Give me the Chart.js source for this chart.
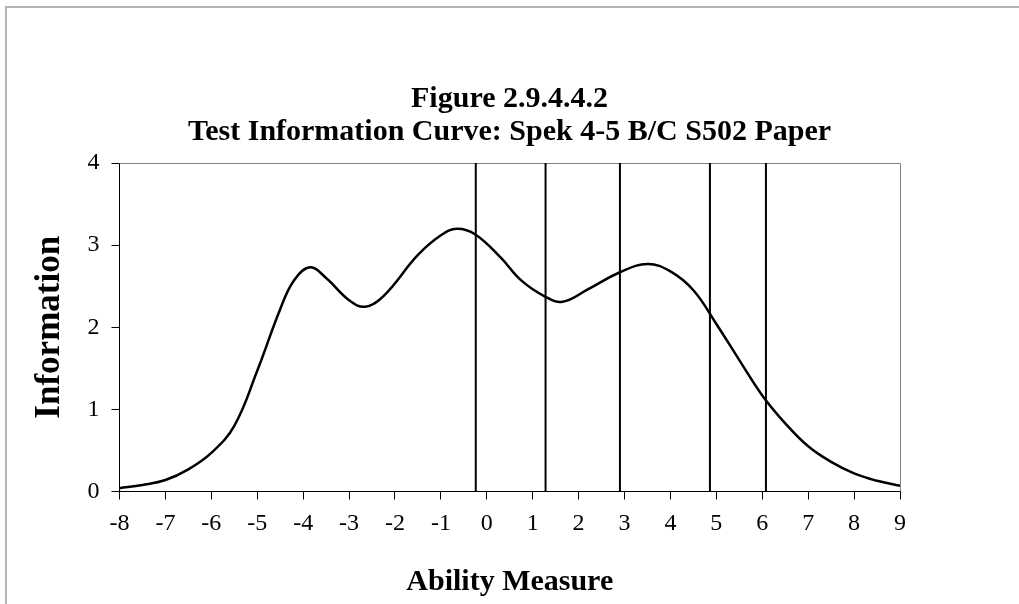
<!DOCTYPE html>
<html>
<head>
<meta charset="utf-8">
<title>Test Information Curve</title>
<script src="https://cdn.jsdelivr.net/npm/chart.js@4.4.1/dist/chart.umd.min.js"></script>
<style>
    html, body { margin: 0; padding: 0; background: #fff; }
    #wrap { position: relative; width: 1019px; height: 604px; overflow: hidden; }
    #frame {
        position: absolute; left: 5px; top: 6px; width: 1100px; height: 700px;
        border-top: 2px solid #b4b4b4; border-left: 2px solid #b4b4b4;
        pointer-events: none;
    }
    canvas { position: absolute; left: 0; top: 0; }
</style>
</head>
<body>
<div id="wrap">
    <canvas id="infoChart" width="1019" height="604"></canvas>
    <div id="frame"></div>
</div>
<script>
// ability measure (x) and test information (y)
const abilityX = [-8, -7.5, -7, -6.5, -6, -5.5, -5, -4.5, -4.2, -3.85, -3.5, -3, -2.65, -2.25,
    -1.5, -1, -0.65, -0.25, 0.3, 0.75, 1.25, 1.65, 2.2, 2.9, 3.5, 4, 4.5, 5, 5.5, 6, 6.5,
    7, 7.5, 8, 8.5, 9]
const information = [0.04, 0.08, 0.14, 0.27, 0.47, 0.80, 1.47, 2.22, 2.57, 2.73, 2.60, 2.33, 2.25, 2.38,
    2.88, 3.12, 3.20, 3.13, 2.85, 2.57, 2.38, 2.31, 2.46, 2.67, 2.77, 2.68, 2.45, 2.04, 1.60, 1.17, 0.83,
    0.55, 0.36, 0.22, 0.13, 0.07]

// vertical cut lines
const cutScores = [-0.24, 1.28, 2.90, 4.86, 6.08]

const xTicks = ['-8', '-7', '-6', '-5', '-4', '-3', '-2', '-1', '0', '1', '2', '3', '4', '5', '6', '7', '8', '9']
const yTicks = ['0', '1', '2', '3', '4']

const titleLines = ['Figure 2.9.4.4.2', 'Test Information Curve: Spek 4-5 B/C S502 Paper']

const serif = "'Liberation Serif', 'Times New Roman', serif"

const xMin = Number(xTicks[0])
const xMax = Number(xTicks[xTicks.length - 1])
const yMin = Number(yTicks[0])
const yMax = Number(yTicks[yTicks.length - 1])

// gray top/right edge of the plot area
const plotFrame = {
    id: 'plotFrame',
    beforeDatasetsDraw(chart) {
        const { ctx, chartArea: a } = chart
        ctx.save()
        ctx.strokeStyle = '#808080'
        ctx.lineWidth = 1
        ctx.beginPath()
        ctx.moveTo(a.left, a.top + 0.5)
        ctx.lineTo(a.right + 0.5, a.top + 0.5)
        ctx.lineTo(a.right + 0.5, a.bottom)
        ctx.stroke()
        ctx.restore()
    }
}

const datasets = cutScores.map(c => ({
    data: [{ x: c, y: yMin }, { x: c, y: yMax }],
    borderColor: '#000',
    borderWidth: 2,
    pointRadius: 0,
    tension: 0
}))

datasets.push({
    label: 'Information',
    data: abilityX.map((x, i) => ({ x: x, y: information[i] })),
    borderColor: '#000',
    borderWidth: 2.5,
    pointRadius: 0,
    tension: 0.4,
    fill: false
})

document.addEventListener('DOMContentLoaded', function() {
    const ctx = document.getElementById('infoChart').getContext('2d')
    new Chart(ctx, {
        type: 'line',
        data: { datasets: datasets },
        options: {
            responsive: false,
            animation: false,
            devicePixelRatio: 1,
            layout: { padding: 0 },
            plugins: {
                legend: { display: false },
                tooltip: { enabled: false },
                title: {
                    display: true,
                    text: titleLines,
                    color: '#000',
                    font: { family: serif, size: 30, weight: 'bold', lineHeight: 1.1 },
                    padding: { top: 83, bottom: 14 }
                }
            },
            scales: {
                x: {
                    type: 'linear',
                    min: xMin,
                    max: xMax,
                    afterFit: s => { s.height = 112.5 },
                    afterBuildTicks: s => { s.ticks = xTicks.map(t => ({ value: Number(t) })) },
                    ticks: {
                        color: '#000',
                        font: { family: serif, size: 24 },
                        padding: 10,
                        maxRotation: 0,
                        autoSkip: false,
                        callback: (v, i) => xTicks[i]
                    },
                    grid: { drawOnChartArea: false, drawTicks: true, tickLength: 8, color: '#000' },
                    border: { display: true, color: '#000', width: 1 },
                    title: {
                        display: true,
                        text: 'Ability Measure',
                        color: '#000',
                        font: { family: serif, size: 30, weight: 'bold', lineHeight: 1.2 },
                        padding: { top: 0, bottom: 4 }
                    }
                },
                y: {
                    type: 'linear',
                    min: yMin,
                    max: yMax,
                    afterFit: s => { s.width = 119.5 },
                    afterBuildTicks: s => { s.ticks = yTicks.map(t => ({ value: Number(t) })) },
                    ticks: {
                        color: '#000',
                        font: { family: serif, size: 24 },
                        padding: 12,
                        callback: (v, i) => yTicks[i]
                    },
                    grid: { drawOnChartArea: false, drawTicks: true, tickLength: 8, color: '#000' },
                    border: { display: true, color: '#000', width: 1 },
                    title: {
                        display: true,
                        text: 'Information',
                        color: '#000',
                        font: { family: serif, size: 35, weight: 'bold', lineHeight: 1.2 },
                        padding: { top: 29, bottom: 0 }
                    }
                },
                // empty axis on the right, only to keep the plot area off the right edge
                spacer: {
                    type: 'linear',
                    position: 'right',
                    display: true,
                    afterFit: s => { s.width = 119 },
                    ticks: { display: false },
                    grid: { display: false, drawTicks: false },
                    border: { display: false }
                }
            }
        },
        plugins: [plotFrame]
    })
})
</script>
</body>
</html>
